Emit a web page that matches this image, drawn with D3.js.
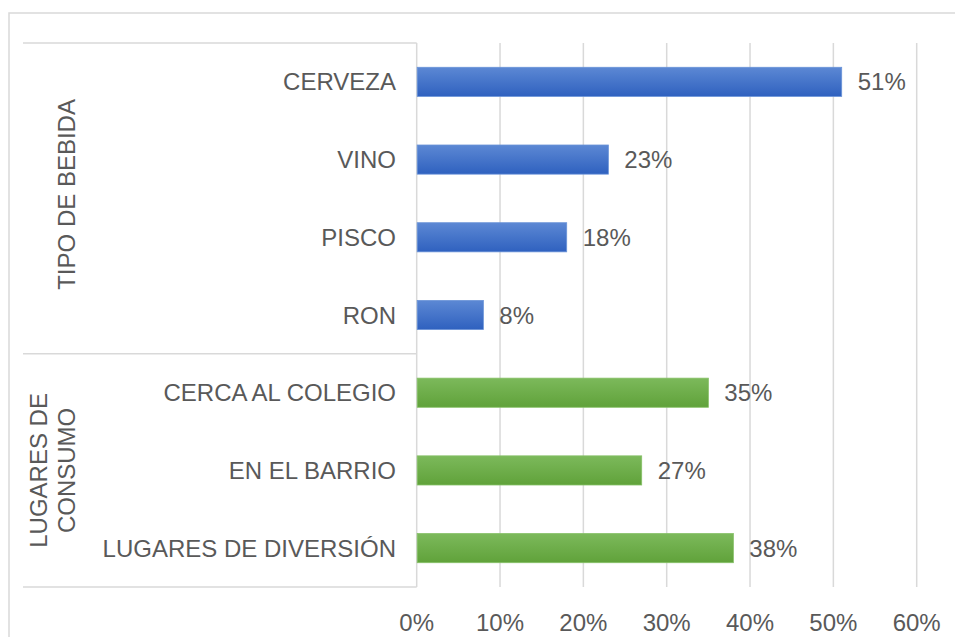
<!DOCTYPE html>
<html><head><meta charset="utf-8">
<script src="https://cdn.jsdelivr.net/npm/d3@7"></script>
<style>
html,body{margin:0;padding:0;background:#fff;}
svg{display:block;font-family:"Liberation Sans",Arial,sans-serif;}
</style></head>
<body>
<svg id="chart" width="955" height="637"></svg>
<script>
const categories = ["CERVEZA","VINO","PISCO","RON","CERCA AL COLEGIO","EN EL BARRIO","LUGARES DE DIVERSIÓN"];
const values = [51, 23, 18, 8, 35, 27, 38];
const groupOf = ["bebida","bebida","bebida","bebida","lugares","lugares","lugares"];
const groups = [
  {key:"bebida", lines:["TIPO DE BEBIDA"], start:0, end:4},
  {key:"lugares", lines:["LUGARES DE","CONSUMO"], start:4, end:7}
];
const xTicks = [0,10,20,30,40,50,60];

const svg = d3.select("#chart");
const gridColor = "#d9d9d9";
const textColor = "#595959";
const fs = 24;

// outer border
svg.append("rect").attr("x",9).attr("y",13).attr("width",960).attr("height",640)
  .attr("fill","none").attr("stroke",gridColor).attr("stroke-width",1.5);

const x = d3.scaleLinear().domain([0,60]).range([416.7, 916.7]);
const y = d3.scaleBand().domain(categories).range([43, 587]).padding(0);
const barH = y.bandwidth()*0.375;

const defs = svg.append("defs");
function grad(id, c1, c2){
  const g = defs.append("linearGradient").attr("id",id).attr("x1",0).attr("y1",0).attr("x2",0).attr("y2",1);
  g.append("stop").attr("offset","0%").attr("stop-color",c1);
  g.append("stop").attr("offset","100%").attr("stop-color",c2);
}
grad("gBlue","#5c88d4","#2f61bf");
grad("gGreen","#7cb95b","#60a23a");

// grid lines
svg.append("g").selectAll("line").data(xTicks).join("line")
  .attr("x1",d=>x(d)).attr("x2",d=>x(d)).attr("y1",43).attr("y2",587)
  .attr("stroke",gridColor).attr("stroke-width",1.5);

// category axis frame lines
const yTop = y.range()[0], yBot = y.range()[1];
const boundaries = [yTop, y(categories[4]), yBot];
svg.append("g").selectAll("line").data(boundaries).join("line")
  .attr("x1",23).attr("x2",x(0)).attr("y1",d=>d).attr("y2",d=>d)
  .attr("stroke",gridColor).attr("stroke-width",1.5);

// bars
svg.append("g").selectAll("rect").data(categories).join("rect")
  .attr("x",x(0)+0.5)
  .attr("y",d=>y(d)+y.bandwidth()/2-barH/2)
  .attr("width",(d,i)=>x(values[i])-x(0)-0.5)
  .attr("height",barH)
  .attr("fill",(d,i)=>groupOf[i]==="bebida"?"url(#gBlue)":"url(#gGreen)")
  .attr("stroke",(d,i)=>groupOf[i]==="bebida"?"#6a93d8":"#86c067")
  .attr("stroke-width",0.8);

// data labels
svg.append("g").selectAll("text").data(categories).join("text")
  .attr("x",(d,i)=>x(values[i])+16)
  .attr("y",d=>y(d)+y.bandwidth()/2)
  .attr("dy","0.36em")
  .attr("font-size",fs).attr("fill",textColor)
  .text((d,i)=>values[i]+"%");

// category labels
svg.append("g").selectAll("text").data(categories).join("text")
  .attr("x",396)
  .attr("y",d=>y(d)+y.bandwidth()/2)
  .attr("dy","0.36em")
  .attr("text-anchor","end")
  .attr("font-size",fs).attr("fill",textColor)
  .text(d=>d);

// group labels
groups.forEach(g=>{
  const cy = (y(categories[g.start]) + (g.end<categories.length? y(categories[g.end]) : yBot))/2 - (g.lines.length===1?4:0);
  const lineH = 27.5;
  g.lines.forEach((ln,k)=>{
    const cx = 66 - (g.lines.length-1-k)*lineH;
    svg.append("text")
      .attr("transform",`translate(${cx},${cy}) rotate(-90)`)
      .attr("text-anchor","middle").attr("dy","0.36em")
      .attr("font-size",fs).attr("fill",textColor)
      .text(ln);
  });
});

// x axis tick labels
svg.append("g").selectAll("text").data(xTicks).join("text")
  .attr("x",d=>x(d)).attr("y",631)
  .attr("text-anchor","middle")
  .attr("font-size",fs).attr("fill",textColor)
  .text(d=>d+"%");
</script>
</body></html>
